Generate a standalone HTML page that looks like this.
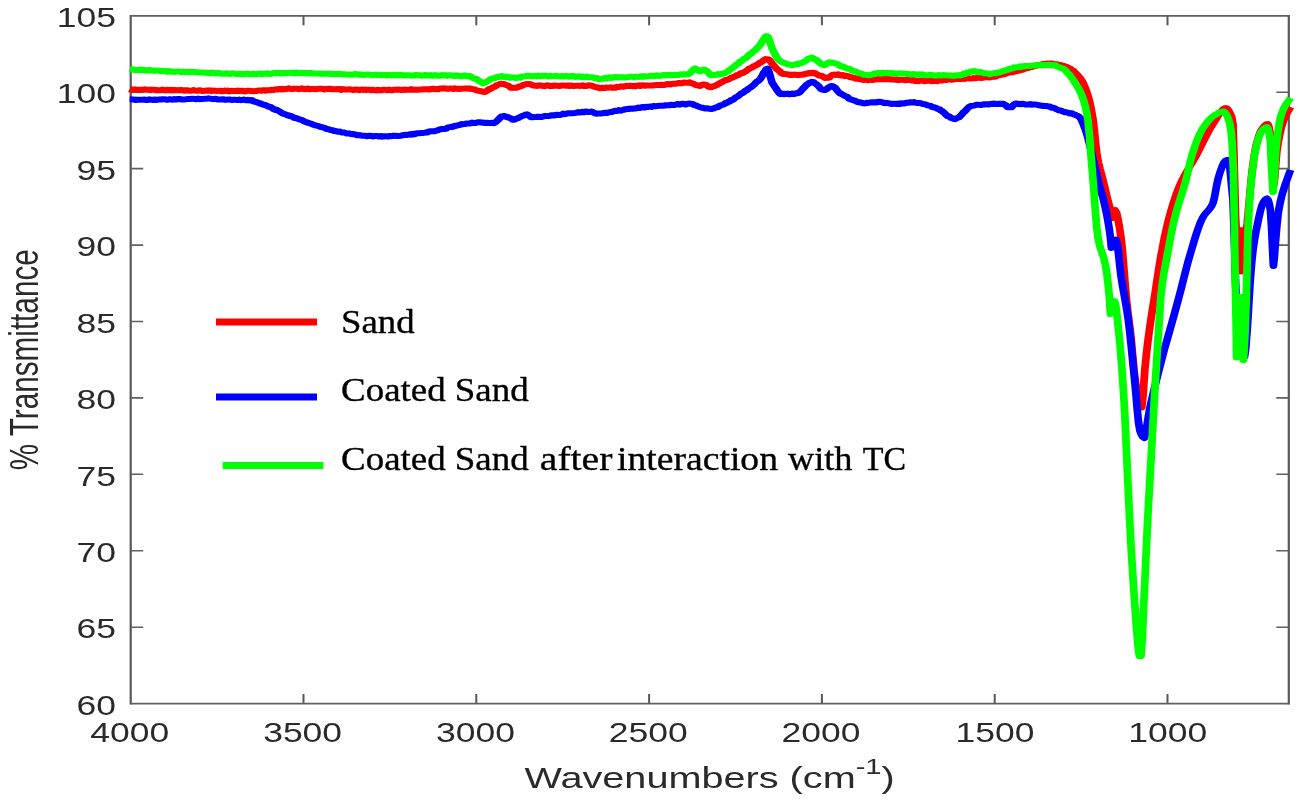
<!DOCTYPE html>
<html lang="en"><head><meta charset="utf-8"><title>FTIR spectra</title>
<style>
html,body{margin:0;padding:0;background:#fff;}
svg{display:block;}
.tk{font-family:"Liberation Sans",Arial,Helvetica,sans-serif;fill:#2a2a2a;}
.lg{font-family:"Liberation Serif","Times New Roman",serif;fill:#000;}
.c{fill:none;stroke-width:6.0;stroke-linejoin:round;stroke-linecap:butt;}
.ax{stroke:#555;stroke-width:1.7;fill:none;}
</style></head><body>
<svg width="1298" height="803" viewBox="0 0 1298 803">
<rect width="1298" height="803" fill="#fff"/>
<g id="axes">
<path class="ax" style="stroke-width:2.2;stroke:#585858" d="M130.7 15.0 V704.5 M1288.8 15.0 V704.5"/>
<path class="ax" style="stroke-width:1.7;stroke:#606060" d="M130.7 15.8 H1288.8 M130.7 703.6 H1288.8"/>
<path class="ax" style="stroke-width:2.0;stroke:#585858" d="M303.5 703.6 v-9.5 M303.5 15.8 v9.5 M476.3 703.6 v-9.5 M476.3 15.8 v9.5 M649.1 703.6 v-9.5 M649.1 15.8 v9.5 M821.9 703.6 v-9.5 M821.9 15.8 v9.5 M994.7 703.6 v-9.5 M994.7 15.8 v9.5 M1167.5 703.6 v-9.5 M1167.5 15.8 v9.5"/>
<path class="ax" style="stroke-width:1.6;stroke:#606060" d="M130.7 627.2 h12.5 M1288.8 627.2 h-12.5 M130.7 550.8 h12.5 M1288.8 550.8 h-12.5 M130.7 474.3 h12.5 M1288.8 474.3 h-12.5 M130.7 397.9 h12.5 M1288.8 397.9 h-12.5 M130.7 321.5 h12.5 M1288.8 321.5 h-12.5 M130.7 245.1 h12.5 M1288.8 245.1 h-12.5 M130.7 168.6 h12.5 M1288.8 168.6 h-12.5 M130.7 92.2 h12.5 M1288.8 92.2 h-12.5"/>
</g>
<g id="curves" transform="scale(1.290 1)">
<path class="c" stroke="#ff0000" d="M100.47 89.21 L101.62 89.73 L102.77 89.60 L103.92 89.52 L105.07 89.37 L106.23 89.89 L107.38 89.85 L108.53 89.64 L109.68 89.68 L110.84 89.70 L111.99 89.27 L113.14 89.81 L114.29 89.85 L115.44 89.68 L116.60 90.11 L117.75 89.68 L118.90 89.77 L120.05 89.63 L121.21 90.33 L122.36 90.10 L123.51 90.27 L124.66 90.28 L125.81 89.58 L126.97 90.13 L128.12 90.43 L129.27 89.82 L130.42 90.33 L131.58 89.80 L132.73 90.51 L133.88 89.87 L135.03 90.04 L136.19 90.27 L137.34 90.12 L138.49 90.17 L139.64 90.35 L140.79 89.96 L141.95 90.46 L143.10 90.77 L144.25 90.15 L145.40 90.19 L146.56 90.68 L147.71 90.77 L148.86 90.60 L150.01 90.12 L151.16 90.52 L152.32 90.82 L153.47 90.78 L154.62 90.21 L155.77 90.54 L156.93 91.06 L158.08 91.01 L159.23 90.65 L160.38 90.55 L161.54 90.70 L162.69 90.34 L163.84 91.11 L164.99 90.57 L166.14 90.63 L167.30 90.90 L168.45 90.89 L169.60 90.84 L170.75 90.64 L171.91 91.25 L173.06 91.28 L174.21 90.56 L175.36 91.07 L176.51 90.53 L177.67 91.36 L178.82 90.96 L179.97 90.85 L181.12 91.04 L182.28 90.91 L183.43 90.93 L184.58 90.53 L185.73 91.18 L186.88 90.83 L188.04 90.75 L189.19 91.28 L190.34 91.43 L191.49 90.79 L192.65 90.63 L193.80 91.03 L194.91 90.88 L196.01 91.13 L197.12 91.16 L198.23 90.98 L199.34 90.90 L200.44 90.39 L201.55 90.60 L202.66 90.63 L203.77 90.16 L204.87 90.16 L205.98 90.66 L207.09 90.28 L208.19 90.23 L209.30 90.31 L210.41 89.78 L211.52 90.11 L212.62 89.66 L213.73 89.37 L214.84 89.53 L215.95 88.91 L217.05 89.08 L218.16 89.44 L219.27 88.71 L220.38 89.26 L221.48 88.95 L222.59 88.99 L223.70 88.32 L224.81 88.86 L225.97 89.10 L227.13 88.77 L228.29 88.75 L229.46 88.84 L230.62 88.83 L231.78 89.15 L232.95 89.12 L234.11 88.34 L235.27 89.07 L236.43 89.16 L237.60 88.65 L238.76 88.52 L239.92 89.30 L241.09 88.96 L242.25 89.11 L243.41 89.02 L244.57 89.18 L245.74 89.06 L246.90 88.83 L248.06 88.76 L249.22 88.70 L250.39 88.99 L251.55 89.48 L252.71 89.08 L253.88 89.00 L255.04 88.78 L256.20 88.82 L257.36 89.33 L258.53 89.33 L259.69 89.22 L260.85 89.24 L262.02 89.02 L263.18 89.08 L264.34 89.89 L265.50 89.12 L266.67 89.29 L267.83 89.60 L268.99 89.59 L270.16 89.49 L271.32 89.30 L272.48 89.59 L273.64 90.10 L274.81 89.71 L275.97 89.52 L277.13 89.51 L278.29 90.25 L279.46 89.70 L280.62 89.59 L281.78 89.91 L282.95 89.51 L284.11 89.94 L285.27 89.82 L286.43 89.63 L287.60 90.21 L288.76 89.70 L289.92 90.02 L291.09 90.35 L292.25 90.38 L293.41 89.67 L294.57 90.42 L295.73 90.21 L296.89 89.66 L298.04 89.70 L299.20 89.91 L300.35 90.25 L301.51 89.60 L302.67 90.25 L303.82 90.32 L304.98 89.74 L306.14 89.86 L307.29 89.61 L308.45 89.65 L309.60 89.59 L310.76 90.00 L311.92 89.90 L313.07 89.50 L314.23 89.96 L315.39 89.67 L316.54 89.74 L317.70 89.80 L318.85 89.14 L320.01 89.78 L321.17 89.61 L322.32 89.85 L323.48 89.72 L324.64 89.65 L325.79 89.54 L326.95 89.58 L328.10 89.33 L329.26 89.14 L330.42 89.31 L331.57 89.16 L332.73 89.49 L333.89 89.28 L335.04 88.69 L336.20 88.81 L337.35 89.33 L338.51 89.06 L339.67 89.27 L340.82 88.48 L341.98 88.50 L343.13 88.41 L344.29 88.37 L345.45 88.52 L346.60 88.75 L347.76 88.73 L348.92 88.58 L350.07 88.56 L351.23 89.01 L352.38 88.24 L353.54 88.86 L354.70 88.80 L355.85 88.98 L357.01 88.79 L358.17 88.83 L359.32 88.59 L360.48 88.40 L361.63 88.50 L362.79 88.49 L363.82 88.79 L364.86 88.52 L365.89 89.12 L366.93 89.27 L367.96 89.44 L368.99 90.28 L370.08 90.40 L371.16 91.05 L372.25 91.02 L373.33 91.37 L374.42 91.78 L375.58 91.93 L376.74 91.38 L377.91 90.52 L379.07 89.12 L380.23 89.13 L381.40 88.07 L382.50 87.07 L383.61 86.82 L384.72 85.61 L385.83 84.86 L386.93 84.34 L388.04 83.76 L389.15 84.01 L390.31 83.92 L391.47 84.59 L392.64 85.19 L393.80 85.55 L394.96 86.62 L396.12 87.81 L397.29 87.89 L398.45 87.73 L399.53 87.84 L400.62 87.76 L401.71 87.05 L402.79 86.28 L403.88 86.21 L404.96 85.50 L406.05 84.66 L407.13 84.44 L408.22 83.95 L409.30 83.94 L410.47 83.94 L411.63 84.47 L412.79 85.24 L413.95 85.50 L415.10 85.68 L416.24 85.96 L417.38 85.40 L418.52 85.29 L419.67 85.76 L420.81 85.81 L421.95 86.15 L423.09 85.66 L424.24 85.32 L425.38 85.76 L426.52 85.98 L427.66 86.06 L428.80 85.78 L429.95 85.52 L431.09 85.54 L432.23 85.84 L433.37 86.04 L434.52 85.79 L435.66 85.45 L436.80 85.47 L437.94 85.66 L439.09 85.73 L440.23 85.49 L441.37 85.90 L442.51 85.44 L443.66 85.75 L444.80 86.09 L445.94 85.90 L447.08 85.73 L448.23 85.64 L449.37 86.00 L450.51 85.86 L451.65 85.34 L452.79 86.11 L453.94 86.09 L455.08 85.82 L456.22 85.36 L457.36 85.42 L458.53 85.46 L459.69 86.25 L460.85 86.80 L462.02 87.24 L463.18 87.13 L464.34 87.91 L465.50 88.30 L466.67 87.66 L467.81 87.99 L468.95 87.89 L470.09 87.53 L471.24 87.67 L472.38 87.61 L473.52 87.37 L474.66 87.89 L475.81 87.62 L476.95 87.66 L478.09 86.87 L479.23 87.11 L480.38 86.76 L481.52 86.37 L482.66 86.81 L483.80 86.51 L484.94 85.92 L486.09 85.84 L487.23 86.04 L488.37 85.64 L489.53 86.12 L490.70 86.17 L491.86 85.64 L493.02 86.15 L494.19 85.54 L495.35 85.37 L496.51 86.06 L497.67 85.30 L498.84 85.23 L500.00 85.70 L501.16 85.56 L502.33 85.59 L503.49 85.38 L504.65 85.57 L505.81 85.54 L506.98 85.14 L508.14 85.06 L509.30 84.87 L510.47 85.02 L511.63 84.84 L512.77 84.71 L513.91 84.98 L515.06 84.93 L516.20 84.58 L517.34 83.97 L518.48 84.11 L519.62 84.47 L520.77 83.93 L521.91 83.81 L523.05 83.79 L524.19 83.67 L525.34 83.27 L526.48 83.03 L527.62 83.21 L528.76 83.16 L529.91 82.50 L531.05 82.80 L532.19 82.71 L533.33 82.71 L534.50 82.27 L535.66 83.12 L536.82 83.38 L537.98 83.98 L539.15 84.94 L540.31 85.34 L541.47 85.48 L542.64 86.00 L543.67 85.06 L544.70 84.64 L545.74 84.43 L546.90 84.65 L548.06 85.45 L549.22 86.76 L550.39 87.03 L551.47 87.31 L552.56 86.31 L553.64 86.30 L554.73 85.60 L555.81 84.93 L556.90 83.93 L557.98 83.38 L559.07 82.30 L560.16 81.87 L561.24 80.82 L562.37 79.98 L563.50 80.05 L564.62 79.57 L565.75 78.60 L566.88 77.76 L568.01 77.55 L569.13 76.55 L570.26 76.28 L571.39 75.01 L572.52 75.05 L573.64 73.78 L574.81 72.94 L575.97 72.88 L577.13 71.99 L578.29 71.19 L579.46 69.98 L580.62 68.76 L581.78 68.17 L582.95 67.57 L584.11 66.26 L585.27 65.83 L586.43 65.07 L587.60 64.32 L588.76 62.92 L589.92 62.27 L591.09 61.29 L592.25 60.02 L593.41 59.10 L594.57 59.26 L595.74 59.47 L596.90 60.65 L598.06 62.97 L599.22 64.65 L600.39 66.48 L601.55 68.24 L602.58 69.44 L603.62 70.47 L604.65 71.35 L605.68 73.18 L606.72 73.96 L607.75 73.71 L608.88 74.11 L610.01 74.25 L611.13 74.49 L612.26 74.93 L613.39 74.81 L614.52 74.91 L615.64 74.61 L616.77 74.64 L617.90 75.05 L619.03 74.95 L620.16 74.70 L621.32 74.83 L622.48 74.51 L623.64 74.25 L624.81 73.77 L625.97 73.51 L627.13 72.93 L628.29 73.21 L629.46 72.66 L630.58 72.78 L631.71 73.09 L632.84 74.12 L633.97 74.95 L635.10 75.55 L636.22 75.66 L637.35 76.09 L638.48 77.15 L639.61 77.93 L640.73 77.82 L641.86 77.72 L643.02 77.46 L644.19 75.99 L645.35 74.89 L646.51 74.57 L647.66 74.92 L648.80 74.73 L649.95 74.32 L651.10 75.34 L652.24 75.56 L653.39 75.09 L654.53 76.11 L655.68 75.78 L656.83 76.00 L657.97 76.37 L659.12 77.22 L660.26 77.21 L661.41 77.84 L662.55 77.91 L663.70 78.73 L664.85 78.46 L665.99 79.01 L667.14 79.03 L668.28 79.55 L669.43 79.93 L670.58 79.52 L671.72 79.81 L672.87 80.31 L674.03 79.68 L675.19 79.70 L676.36 80.07 L677.52 79.25 L678.68 79.49 L679.84 79.24 L681.01 79.04 L682.17 79.36 L683.31 79.33 L684.45 79.06 L685.59 79.27 L686.73 78.94 L687.87 79.36 L689.01 79.12 L690.15 79.56 L691.29 79.25 L692.43 79.60 L693.57 79.65 L694.71 79.20 L695.85 79.99 L696.99 79.99 L698.13 79.83 L699.27 79.73 L700.41 79.82 L701.55 80.33 L702.69 80.08 L703.83 79.75 L704.97 79.96 L706.11 80.14 L707.25 80.58 L708.39 80.13 L709.53 80.95 L710.67 80.57 L711.81 81.17 L712.95 80.71 L714.09 80.39 L715.23 80.55 L716.37 81.27 L717.51 81.09 L718.65 80.75 L719.79 80.76 L720.93 80.62 L722.05 81.26 L723.17 80.99 L724.29 80.89 L725.41 80.52 L726.53 81.12 L727.65 80.64 L728.77 80.57 L729.89 80.56 L731.01 79.96 L732.13 79.81 L733.25 80.09 L734.37 79.70 L735.49 79.36 L736.61 79.30 L737.73 79.78 L738.85 79.46 L739.97 79.44 L741.09 79.08 L742.23 79.10 L743.38 79.04 L744.52 78.44 L745.67 78.95 L746.81 78.26 L747.96 78.94 L749.11 78.01 L750.25 78.05 L751.40 78.44 L752.54 78.48 L753.69 78.47 L754.84 78.10 L755.98 78.25 L757.13 78.11 L758.27 77.51 L759.42 77.86 L760.57 78.03 L761.71 77.76 L762.86 77.48 L764.00 77.38 L765.15 76.85 L766.30 77.51 L767.44 77.22 L768.60 76.97 L769.77 76.67 L770.93 76.84 L772.09 76.38 L773.26 75.50 L774.42 75.35 L775.58 74.87 L776.74 74.79 L777.91 74.35 L779.07 74.08 L780.23 73.29 L781.40 72.71 L782.56 72.54 L783.72 72.02 L784.88 72.33 L786.05 71.83 L787.21 71.25 L788.37 71.01 L789.53 70.13 L790.70 70.43 L791.86 69.26 L793.02 69.67 L794.19 68.51 L795.35 68.20 L796.51 68.29 L797.67 67.53 L798.84 67.14 L800.00 67.11 L801.16 66.17 L802.33 66.05 L803.49 65.38 L804.65 64.83 L805.81 64.98 L806.98 64.96 L808.14 64.00 L809.30 64.59 L810.47 63.76 L811.63 63.82 L812.79 63.43 L813.95 64.04 L815.08 63.32 L816.21 63.98 L817.34 64.29 L818.46 64.24 L819.59 64.22 L820.72 65.17 L821.85 64.86 L822.97 65.51 L824.10 66.50 L825.23 66.13 L826.36 66.77 L827.44 67.26 L828.53 68.56 L829.61 68.56 L830.70 70.33 L831.78 70.55 L832.87 71.84 L833.95 73.43 L835.04 74.84 L836.12 76.36 L837.21 78.00 L838.24 79.85 L839.28 82.16 L840.31 84.91 L841.34 88.08 L842.38 91.65 L843.41 95.60 L844.42 100.20 L845.43 105.92 L846.43 112.70 L847.44 120.50 L848.42 131.38 L849.41 144.54 L850.39 155.00 L851.55 162.71 L852.71 168.83 L853.88 174.29 L855.04 180.00 L856.16 185.98 L857.27 192.03 L858.39 197.98 L859.50 203.69 L860.62 209.00 L861.71 214.73 L862.79 218.00 L863.57 214.00 L864.34 210.00 L865.50 212.45 L866.67 218.82 L867.83 227.66 L868.99 237.50 L870.06 249.88 L871.12 266.68 L872.19 284.52 L873.26 300.00 L874.19 310.55 L875.12 319.96 L876.05 329.39 L876.98 340.00 L878.02 355.27 L879.07 370.00 L880.23 382.44 L881.40 392.00 L882.25 397.08 L883.10 401.25 L883.95 404.50 L885.12 407.50 L886.05 396.00 L886.74 382.99 L887.44 370.00 L888.53 355.73 L889.61 343.79 L890.70 333.00 L891.82 322.64 L892.95 313.20 L894.07 304.15 L895.19 295.00 L896.36 285.10 L897.52 275.10 L898.68 265.48 L899.84 256.70 L900.90 249.35 L901.96 242.29 L903.02 235.57 L904.08 229.25 L905.14 223.37 L906.20 218.00 L907.36 212.54 L908.53 207.36 L909.69 202.48 L910.85 197.90 L912.02 193.62 L913.18 189.65 L914.34 186.00 L915.44 182.82 L916.54 179.85 L917.64 177.07 L918.73 174.43 L919.83 171.91 L920.93 169.49 L922.03 167.11 L923.13 164.77 L924.22 162.41 L925.32 160.02 L926.42 157.56 L927.52 155.00 L928.68 152.17 L929.84 149.24 L931.01 146.25 L932.17 143.23 L933.33 140.22 L934.50 137.24 L935.66 134.33 L936.82 131.52 L937.98 128.84 L939.15 126.32 L940.31 124.00 L941.43 121.77 L942.55 119.40 L943.67 117.01 L944.79 114.70 L945.91 112.57 L947.03 110.73 L948.15 109.28 L949.27 108.34 L950.39 108.00 L951.55 108.86 L952.71 111.04 L953.88 114.00 L954.84 117.17 L955.81 124.00 L956.59 155.00 L957.05 180.00 L957.75 215.00 L958.29 229.00 L959.26 229.84 L960.23 230.00 L961.20 230.21 L962.17 231.20 L962.25 271.50 L962.33 231.20 L963.29 230.18 L964.26 229.91 L965.23 229.74 L966.20 229.00 L966.82 223.77 L967.44 215.00 L968.29 202.72 L969.15 190.00 L969.84 180.43 L970.54 172.00 L971.58 161.66 L972.61 152.74 L973.64 146.00 L974.81 140.30 L975.97 135.46 L977.13 131.64 L978.29 129.00 L979.40 127.15 L980.50 125.55 L981.61 124.42 L982.71 124.00 L983.57 126.22 L984.42 132.00 L985.27 140.00 L986.24 165.46 L987.21 186.00 L988.11 178.39 L989.02 162.78 L989.92 150.00 L991.09 140.82 L992.25 133.15 L993.41 126.91 L994.57 122.00 L995.74 118.19 L996.90 115.09 L998.06 112.39 L999.22 109.80 L1000.39 107.00"/>
<path class="c" stroke="#0000ff" d="M100.47 99.27 L101.63 99.31 L102.78 99.56 L103.94 99.53 L105.10 100.07 L106.26 99.70 L107.42 99.72 L108.58 99.71 L109.74 99.72 L110.90 99.70 L112.06 99.53 L113.22 100.00 L114.38 99.91 L115.54 99.35 L116.70 99.84 L117.86 99.75 L119.02 100.01 L120.18 99.55 L121.34 99.97 L122.50 99.58 L123.66 99.59 L124.82 99.56 L125.98 99.19 L127.14 99.17 L128.30 99.45 L129.46 99.86 L130.62 99.58 L131.78 99.18 L132.93 99.53 L134.08 99.71 L135.23 99.01 L136.38 99.54 L137.53 98.97 L138.67 99.26 L139.82 99.05 L140.97 99.49 L142.12 99.45 L143.27 99.49 L144.42 99.13 L145.56 99.07 L146.71 99.02 L147.86 98.97 L149.01 98.64 L150.16 98.96 L151.31 98.91 L152.45 99.29 L153.60 98.61 L154.75 99.25 L155.90 98.92 L157.05 98.99 L158.20 98.86 L159.35 98.63 L160.49 98.65 L161.64 98.37 L162.79 98.59 L163.95 98.85 L165.12 99.13 L166.28 98.97 L167.44 98.67 L168.60 99.40 L169.77 99.51 L170.93 99.60 L172.09 99.34 L173.26 99.24 L174.42 99.77 L175.53 99.71 L176.65 99.59 L177.76 99.41 L178.88 99.83 L179.99 99.92 L181.10 99.78 L182.22 99.85 L183.33 99.98 L184.45 100.11 L185.56 99.58 L186.68 100.17 L187.79 99.96 L188.91 99.57 L190.02 99.98 L191.13 100.28 L192.25 99.77 L193.33 100.45 L194.42 100.06 L195.50 100.23 L196.59 101.47 L197.67 101.76 L198.76 101.98 L199.84 102.62 L200.93 103.42 L202.02 103.35 L203.10 104.24 L204.24 104.76 L205.39 104.73 L206.53 105.78 L207.67 106.19 L208.81 106.98 L209.96 107.08 L211.10 108.14 L212.24 109.24 L213.38 109.93 L214.52 109.79 L215.67 110.75 L216.81 111.46 L217.95 112.62 L219.09 113.38 L220.24 113.97 L221.38 114.28 L222.52 115.25 L223.66 115.29 L224.81 116.35 L225.95 116.13 L227.09 116.89 L228.23 117.95 L229.37 118.06 L230.51 118.59 L231.65 119.24 L232.79 119.54 L233.93 120.03 L235.07 120.83 L236.21 121.77 L237.35 122.19 L238.49 122.61 L239.63 123.35 L240.77 123.49 L241.91 124.23 L243.05 124.77 L244.19 125.25 L245.33 125.57 L246.47 125.83 L247.61 126.49 L248.75 127.03 L249.89 127.18 L251.03 127.65 L252.17 128.26 L253.31 129.04 L254.45 129.00 L255.59 129.70 L256.73 129.95 L257.87 130.15 L259.01 131.04 L260.15 130.92 L261.29 131.48 L262.43 131.68 L263.57 131.58 L264.73 132.42 L265.89 132.60 L267.05 132.58 L268.22 133.27 L269.38 133.59 L270.54 133.31 L271.71 133.90 L272.87 134.22 L274.03 134.08 L275.19 134.43 L276.36 135.02 L277.52 135.37 L278.68 135.10 L279.84 135.49 L281.01 135.66 L282.17 135.68 L283.33 135.95 L284.50 136.22 L285.66 135.81 L286.82 135.80 L287.98 135.96 L289.15 136.44 L290.31 136.08 L291.47 136.12 L292.64 135.91 L293.80 136.43 L294.96 135.96 L296.12 136.64 L297.29 136.54 L298.45 136.22 L299.61 136.35 L300.78 136.55 L301.94 136.04 L303.10 136.20 L304.26 136.11 L305.43 135.64 L306.59 135.70 L307.75 136.06 L308.91 136.04 L310.08 135.88 L311.24 135.58 L312.40 135.16 L313.57 134.85 L314.73 135.11 L315.89 134.63 L317.05 134.82 L318.22 134.03 L319.38 134.60 L320.54 133.70 L321.71 134.18 L322.87 133.25 L324.03 133.26 L325.19 133.22 L326.36 133.06 L327.52 133.10 L328.68 132.90 L329.84 132.61 L331.01 132.58 L332.17 131.66 L333.33 131.31 L334.50 131.18 L335.66 131.14 L336.82 131.22 L337.98 130.74 L339.15 130.34 L340.31 129.75 L341.47 129.23 L342.64 128.98 L343.80 128.95 L344.96 128.94 L346.12 128.55 L347.29 127.38 L348.45 127.11 L349.61 126.79 L350.78 127.02 L351.94 126.29 L353.10 125.74 L354.26 125.68 L355.43 125.01 L356.59 125.11 L357.75 124.09 L358.91 124.21 L360.08 124.10 L361.24 123.64 L362.40 123.41 L363.57 123.56 L364.73 123.33 L365.89 122.61 L367.05 122.90 L368.22 122.97 L369.38 122.72 L370.54 122.30 L371.67 122.13 L372.80 122.60 L373.93 122.48 L375.05 122.76 L376.18 122.98 L377.31 122.73 L378.44 123.00 L379.56 122.97 L380.69 122.91 L381.82 122.79 L382.95 123.17 L384.11 122.20 L385.27 120.90 L386.43 119.51 L387.60 117.78 L388.76 116.48 L389.92 116.24 L390.99 115.94 L392.05 116.95 L393.12 116.83 L394.19 117.53 L395.25 118.06 L396.32 118.51 L397.38 119.71 L398.45 119.80 L399.57 119.04 L400.69 118.42 L401.81 118.16 L402.93 117.08 L404.05 116.52 L405.17 115.87 L406.29 115.49 L407.41 114.59 L408.53 114.24 L409.50 115.02 L410.47 116.16 L411.43 117.05 L412.40 117.28 L413.56 117.06 L414.71 117.13 L415.86 117.01 L417.01 116.70 L418.17 117.07 L419.32 116.96 L420.47 116.72 L421.63 116.27 L422.78 116.02 L423.93 116.03 L425.08 116.13 L426.24 115.83 L427.39 115.25 L428.54 115.24 L429.70 115.54 L430.85 115.04 L432.00 114.77 L433.15 114.99 L434.31 114.90 L435.46 114.50 L436.61 113.60 L437.77 114.15 L438.92 113.82 L440.07 113.36 L441.22 113.31 L442.38 113.34 L443.53 113.14 L444.68 113.16 L445.84 112.97 L446.99 112.69 L448.14 112.10 L449.29 112.54 L450.45 112.38 L451.60 111.81 L452.75 112.27 L453.91 111.45 L455.06 111.74 L456.21 112.07 L457.36 111.83 L458.40 111.50 L459.43 111.95 L460.47 112.95 L461.50 113.36 L462.53 113.75 L463.57 113.38 L464.73 113.39 L465.89 113.42 L467.05 113.22 L468.22 113.00 L469.38 112.79 L470.54 112.95 L471.71 112.37 L472.87 112.11 L474.03 112.05 L475.19 111.42 L476.36 110.96 L477.52 110.65 L478.68 111.03 L479.84 110.07 L481.01 110.66 L482.17 110.18 L483.33 109.88 L484.50 109.22 L485.66 109.21 L486.82 108.67 L487.98 108.88 L489.15 108.50 L490.31 108.85 L491.47 108.47 L492.64 108.60 L493.80 108.06 L494.96 107.49 L496.12 107.94 L497.26 107.21 L498.40 106.98 L499.54 107.61 L500.68 106.78 L501.82 107.10 L502.96 106.68 L504.10 106.53 L505.24 106.93 L506.38 105.96 L507.52 106.10 L508.66 106.15 L509.80 105.89 L510.94 105.83 L512.08 105.80 L513.22 105.66 L514.36 105.72 L515.50 105.27 L516.64 105.40 L517.78 105.17 L518.92 105.30 L520.06 104.69 L521.20 104.90 L522.34 104.94 L523.48 104.71 L524.62 104.20 L525.76 103.97 L526.90 104.63 L528.04 103.99 L529.18 103.77 L530.32 103.91 L531.46 104.48 L532.60 103.89 L533.74 103.56 L534.88 103.77 L535.99 103.70 L537.10 104.14 L538.21 105.22 L539.31 105.14 L540.42 106.13 L541.53 106.53 L542.64 107.13 L543.74 107.62 L544.85 107.82 L545.96 108.21 L547.07 108.44 L548.17 108.31 L549.28 108.55 L550.39 108.87 L551.47 109.11 L552.56 108.51 L553.64 108.24 L554.73 107.57 L555.81 107.18 L556.90 107.00 L557.98 105.62 L559.07 105.22 L560.16 104.81 L561.24 104.31 L562.35 103.06 L563.46 102.99 L564.56 101.85 L565.67 101.53 L566.78 99.92 L567.88 99.89 L568.99 98.94 L570.10 97.59 L571.21 96.95 L572.31 96.01 L573.42 94.74 L574.53 93.54 L575.64 93.00 L576.74 92.03 L577.87 90.61 L579.00 90.19 L580.13 88.63 L581.25 87.86 L582.38 86.96 L583.51 85.63 L584.64 84.49 L585.76 82.83 L586.89 81.56 L588.02 80.84 L589.15 79.28 L590.13 77.46 L591.11 75.33 L592.09 72.63 L593.07 71.13 L594.06 69.14 L595.04 68.64 L596.18 72.22 L597.31 77.40 L598.45 82.40 L599.56 84.56 L600.66 86.76 L601.77 88.95 L602.88 91.12 L603.99 93.04 L605.09 94.10 L606.20 93.61 L607.29 94.28 L608.37 93.72 L609.46 94.11 L610.54 93.62 L611.63 94.32 L612.71 94.21 L613.80 93.51 L614.88 93.76 L615.97 93.98 L617.05 93.30 L618.18 93.20 L619.31 92.83 L620.44 91.48 L621.56 90.00 L622.69 88.24 L623.82 86.85 L624.95 85.11 L626.07 84.36 L627.20 83.10 L628.33 82.62 L629.46 81.78 L630.62 82.16 L631.78 83.40 L632.95 84.25 L634.11 85.59 L635.27 87.21 L636.43 89.08 L637.60 89.83 L638.76 89.88 L639.79 89.95 L640.83 89.11 L641.86 87.70 L642.89 87.22 L643.93 86.26 L644.96 86.04 L645.99 86.48 L647.03 87.32 L648.06 88.79 L649.10 90.65 L650.13 92.15 L651.16 93.38 L652.33 94.01 L653.49 94.77 L654.65 95.65 L655.81 96.43 L656.98 97.01 L658.14 98.68 L659.30 99.24 L660.47 99.83 L661.63 100.40 L662.79 100.73 L663.95 101.54 L665.12 102.31 L666.28 102.18 L667.44 102.58 L668.60 103.10 L669.77 103.39 L670.85 103.32 L671.94 102.77 L673.02 102.95 L674.11 102.69 L675.19 102.35 L676.28 102.49 L677.36 102.28 L678.45 102.52 L679.53 102.42 L680.62 101.67 L681.75 101.69 L682.88 101.97 L684.00 102.18 L685.13 103.00 L686.26 103.15 L687.39 102.83 L688.51 103.09 L689.64 103.45 L690.77 103.70 L691.90 103.96 L693.02 103.67 L694.13 103.68 L695.24 104.02 L696.35 103.45 L697.45 104.07 L698.56 103.27 L699.67 103.52 L700.78 103.56 L701.88 102.98 L702.99 102.77 L704.10 102.80 L705.20 102.32 L706.31 102.33 L707.42 102.59 L708.53 102.13 L709.69 102.50 L710.85 102.97 L712.02 103.06 L713.18 102.94 L714.34 103.42 L715.50 103.94 L716.67 104.18 L717.83 104.56 L718.99 105.36 L720.16 105.63 L721.32 105.99 L722.48 107.04 L723.64 107.00 L724.81 107.73 L725.97 108.10 L727.13 109.15 L728.23 109.25 L729.33 110.59 L730.43 111.21 L731.52 112.35 L732.62 113.75 L733.72 115.21 L734.82 116.26 L735.92 116.52 L737.02 117.82 L738.11 118.07 L739.21 118.84 L740.31 119.20 L741.41 118.35 L742.51 117.83 L743.60 117.13 L744.70 115.42 L745.80 114.17 L746.90 112.19 L748.00 111.39 L749.10 109.68 L750.19 108.16 L751.29 106.85 L752.39 105.98 L753.49 105.90 L754.65 105.61 L755.81 105.28 L756.98 104.78 L758.14 104.70 L759.30 104.86 L760.47 105.11 L761.63 104.56 L762.79 104.25 L763.95 104.48 L765.12 104.16 L766.28 104.53 L767.44 104.12 L768.60 103.76 L769.77 104.01 L770.93 103.54 L772.09 103.96 L773.26 103.94 L774.42 103.70 L775.58 103.76 L776.74 103.98 L777.78 103.81 L778.81 104.62 L779.84 105.42 L780.88 106.98 L781.91 107.23 L782.95 107.36 L784.11 107.33 L785.27 105.49 L786.43 104.03 L787.60 103.56 L788.74 103.74 L789.88 104.02 L791.02 104.19 L792.17 103.63 L793.31 103.85 L794.45 104.39 L795.59 104.46 L796.74 104.48 L797.88 104.39 L799.02 103.93 L800.16 104.69 L801.31 104.41 L802.45 104.38 L803.59 104.58 L804.73 105.15 L805.88 105.26 L807.02 105.72 L808.16 105.69 L809.30 106.09 L810.47 106.08 L811.63 106.11 L812.79 106.52 L813.95 106.52 L815.12 107.72 L816.28 107.76 L817.44 108.08 L818.60 109.08 L819.77 109.67 L820.93 110.32 L822.09 110.54 L823.26 111.06 L824.42 111.74 L825.58 112.25 L826.67 112.35 L827.75 112.63 L828.84 113.37 L829.92 113.00 L831.01 113.38 L832.09 114.41 L833.18 114.51 L834.26 115.22 L835.35 115.89 L836.43 116.70 L837.44 118.06 L838.45 120.33 L839.46 123.24 L840.47 126.55 L841.47 130.00 L842.54 134.16 L843.60 139.12 L844.67 144.52 L845.74 150.00 L846.82 155.73 L847.91 161.80 L848.99 168.00 L850.08 174.14 L851.16 180.00 L852.14 184.87 L853.13 189.41 L854.11 193.85 L855.09 198.44 L856.07 203.41 L857.05 209.00 L857.98 214.82 L858.91 221.24 L859.84 228.66 L860.78 237.50 L861.55 248.00 L862.36 247.36 L863.18 246.00 L864.15 242.32 L865.12 239.50 L866.09 243.65 L867.05 253.60 L868.02 265.63 L868.99 276.00 L870.12 285.05 L871.26 293.28 L872.39 301.39 L873.52 310.06 L874.65 320.00 L875.60 329.91 L876.54 341.18 L877.49 353.26 L878.43 365.55 L879.38 377.50 L880.47 392.62 L881.55 409.00 L882.64 423.01 L883.72 431.00 L884.83 434.53 L885.94 437.04 L887.05 438.00 L888.10 433.31 L889.15 425.00 L890.12 417.45 L891.09 410.00 L892.25 402.77 L893.41 396.27 L894.57 390.00 L895.54 384.83 L896.51 379.81 L897.48 374.89 L898.45 370.00 L899.52 364.64 L900.58 359.34 L901.65 354.12 L902.71 349.00 L903.88 343.58 L905.04 338.28 L906.20 333.00 L907.16 328.68 L908.11 324.37 L909.07 320.00 L910.12 315.09 L911.18 310.14 L912.23 305.13 L913.29 300.08 L914.34 295.00 L915.45 289.54 L916.56 283.91 L917.66 278.22 L918.77 272.56 L919.88 267.02 L920.99 261.70 L922.09 256.70 L923.21 251.80 L924.33 246.88 L925.45 242.02 L926.57 237.28 L927.69 232.73 L928.81 228.46 L929.93 224.53 L931.05 221.02 L932.17 218.00 L933.33 215.50 L934.50 213.55 L935.66 211.89 L936.82 210.27 L937.98 208.42 L939.15 206.08 L940.31 203.00 L941.24 198.67 L942.17 192.38 L943.10 185.64 L944.03 180.00 L944.91 175.90 L945.79 172.24 L946.67 169.00 L947.75 165.24 L948.84 162.50 L950.00 160.79 L951.16 160.00 L952.25 162.37 L953.33 168.00 L953.99 175.36 L954.65 185.00 L955.81 200.00 L956.78 237.33 L957.75 280.00 L958.79 311.07 L959.82 337.12 L960.85 350.00 L961.82 352.98 L962.79 355.17 L963.76 356.53 L964.73 357.00 L965.70 348.29 L966.67 332.00 L967.55 315.09 L968.42 295.35 L969.30 278.00 L970.31 262.38 L971.32 250.00 L972.48 239.65 L973.64 231.25 L974.81 224.00 L975.87 217.57 L976.94 211.48 L978.00 206.39 L979.07 203.00 L980.10 200.83 L981.14 199.17 L982.17 198.50 L983.05 199.97 L983.93 204.00 L984.81 210.00 L985.66 226.37 L986.51 250.00 L987.13 266.00 L987.83 258.02 L988.53 245.00 L989.61 228.54 L990.70 215.00 L991.60 207.71 L992.51 201.90 L993.41 197.00 L994.42 192.19 L995.43 187.96 L996.43 184.12 L997.44 180.46 L998.45 176.80 L999.42 173.35 L1000.39 170.00"/>
<path class="c" stroke="#00ff00" d="M100.47 69.19 L101.59 69.40 L102.71 69.37 L103.83 70.00 L104.95 69.82 L106.08 70.16 L107.20 70.04 L108.32 69.61 L109.44 70.34 L110.56 69.72 L111.69 70.00 L112.81 70.49 L113.93 70.47 L115.05 70.10 L116.18 70.11 L117.30 70.32 L118.42 70.65 L119.54 70.67 L120.66 70.49 L121.79 70.44 L122.91 70.61 L124.03 71.11 L125.18 71.33 L126.33 70.85 L127.48 70.90 L128.62 70.89 L129.77 71.76 L130.92 70.99 L132.07 71.71 L133.22 71.39 L134.37 71.78 L135.52 71.91 L136.66 71.66 L137.81 71.41 L138.96 71.68 L140.11 72.00 L141.26 72.27 L142.41 71.61 L143.55 72.15 L144.70 71.92 L145.85 71.98 L147.00 72.30 L148.15 71.82 L149.30 71.85 L150.45 72.06 L151.59 72.27 L152.74 72.22 L153.89 72.33 L155.04 72.41 L156.18 72.65 L157.32 72.43 L158.46 72.67 L159.60 72.80 L160.74 72.85 L161.88 73.15 L163.02 73.07 L164.16 72.59 L165.30 73.11 L166.44 73.09 L167.58 73.57 L168.72 73.05 L169.86 72.83 L171.00 73.65 L172.14 73.76 L173.28 73.72 L174.42 73.72 L175.56 73.37 L176.70 73.87 L177.84 73.86 L178.98 73.95 L180.12 73.29 L181.26 73.58 L182.40 73.80 L183.54 74.11 L184.68 74.24 L185.82 73.80 L186.96 73.95 L188.10 74.21 L189.24 73.87 L190.38 73.96 L191.52 73.56 L192.66 73.96 L193.80 74.24 L194.95 74.09 L196.10 73.82 L197.24 74.04 L198.39 74.32 L199.54 73.90 L200.69 73.83 L201.84 73.45 L202.99 74.15 L204.13 73.66 L205.28 73.77 L206.43 73.84 L207.58 73.18 L208.73 73.91 L209.88 73.92 L211.02 73.51 L212.17 73.02 L213.32 73.30 L214.47 72.84 L215.62 73.06 L216.77 72.87 L217.92 73.50 L219.06 72.95 L220.21 73.30 L221.36 73.02 L222.51 73.08 L223.66 72.87 L224.81 72.78 L225.97 72.98 L227.13 72.78 L228.29 73.40 L229.46 72.58 L230.62 73.05 L231.78 73.03 L232.95 73.23 L234.11 72.74 L235.27 73.18 L236.43 73.00 L237.60 72.99 L238.76 73.28 L239.92 73.36 L241.09 72.80 L242.25 73.62 L243.41 73.49 L244.57 73.42 L245.74 73.52 L246.90 73.62 L248.06 73.66 L249.22 73.56 L250.39 73.90 L251.55 73.85 L252.71 73.86 L253.88 73.63 L255.04 73.54 L256.20 73.94 L257.36 73.79 L258.53 74.07 L259.69 74.23 L260.85 74.10 L262.02 74.11 L263.18 73.81 L264.34 74.14 L265.50 74.32 L266.67 74.22 L267.83 74.51 L268.99 74.46 L270.16 74.49 L271.32 74.58 L272.48 74.77 L273.64 74.60 L274.81 74.24 L275.97 74.02 L277.13 74.37 L278.29 74.73 L279.46 74.43 L280.62 74.82 L281.78 74.93 L282.95 74.64 L284.11 74.63 L285.27 74.49 L286.43 74.67 L287.60 74.89 L288.76 75.31 L289.92 74.98 L291.09 74.77 L292.25 75.07 L293.41 74.69 L294.57 74.73 L295.73 75.32 L296.89 75.10 L298.04 74.96 L299.20 74.93 L300.35 75.43 L301.51 75.01 L302.67 74.99 L303.82 75.48 L304.98 74.78 L306.14 74.95 L307.29 75.44 L308.45 74.80 L309.60 75.34 L310.76 74.77 L311.92 75.31 L313.07 75.19 L314.23 75.46 L315.39 75.15 L316.54 75.13 L317.70 75.42 L318.85 75.62 L320.01 75.58 L321.17 75.41 L322.32 74.88 L323.48 75.23 L324.64 75.18 L325.79 75.14 L326.95 75.68 L328.10 75.24 L329.26 75.56 L330.42 74.91 L331.57 75.43 L332.73 75.38 L333.89 74.97 L335.04 75.72 L336.20 75.74 L337.35 74.98 L338.51 75.76 L339.67 75.84 L340.82 75.67 L341.98 75.19 L343.13 75.11 L344.29 75.31 L345.45 75.37 L346.60 75.87 L347.76 75.21 L348.92 75.28 L350.07 75.40 L351.23 75.84 L352.38 76.12 L353.54 75.37 L354.70 75.46 L355.85 75.92 L357.01 76.24 L358.17 76.19 L359.32 75.57 L360.48 75.51 L361.63 76.37 L362.79 76.36 L363.82 75.89 L364.86 76.53 L365.89 77.51 L366.93 78.09 L367.96 78.70 L368.99 78.70 L370.08 79.62 L371.16 80.98 L372.25 81.54 L373.33 82.34 L374.42 83.40 L375.58 82.47 L376.74 82.17 L377.91 81.31 L379.07 80.29 L380.23 79.30 L381.40 78.66 L382.50 78.16 L383.61 78.23 L384.72 77.39 L385.83 76.77 L386.93 77.05 L388.04 76.60 L389.15 76.08 L390.23 76.87 L391.32 76.41 L392.40 77.26 L393.49 76.72 L394.57 77.17 L395.66 77.76 L396.74 77.30 L397.83 77.61 L398.91 77.55 L400.00 78.19 L401.16 77.56 L402.33 77.35 L403.49 77.80 L404.65 76.57 L405.81 76.38 L406.98 76.20 L408.14 75.92 L409.30 75.74 L410.45 75.82 L411.59 76.23 L412.74 76.21 L413.88 76.04 L415.02 75.86 L416.17 76.46 L417.31 75.58 L418.46 76.27 L419.60 75.93 L420.75 75.74 L421.89 75.81 L423.03 75.81 L424.18 75.94 L425.32 76.50 L426.47 75.88 L427.61 76.20 L428.76 76.15 L429.90 76.09 L431.04 75.85 L432.19 75.95 L433.33 76.46 L434.48 76.50 L435.62 76.02 L436.77 76.46 L437.91 76.30 L439.06 76.03 L440.20 76.26 L441.34 76.80 L442.49 76.01 L443.63 76.20 L444.78 76.09 L445.92 76.88 L447.07 76.42 L448.21 76.75 L449.35 76.33 L450.50 77.10 L451.64 76.58 L452.79 77.17 L453.93 77.01 L455.08 76.53 L456.22 77.18 L457.36 77.22 L458.47 77.37 L459.58 77.32 L460.69 77.99 L461.79 78.51 L462.90 78.05 L464.01 78.95 L465.12 79.13 L466.28 78.82 L467.44 78.85 L468.60 77.97 L469.77 78.44 L470.93 78.22 L472.09 77.33 L473.26 77.95 L474.42 77.16 L475.58 77.70 L476.74 76.96 L477.91 77.25 L479.07 76.91 L480.23 77.39 L481.40 77.36 L482.56 76.99 L483.72 77.59 L484.88 77.29 L486.05 77.31 L487.21 77.03 L488.37 76.82 L489.53 76.76 L490.70 76.66 L491.86 77.20 L493.02 76.59 L494.19 76.82 L495.35 76.97 L496.51 76.21 L497.67 76.80 L498.84 76.14 L500.00 76.66 L501.16 76.40 L502.33 76.20 L503.49 75.98 L504.65 75.70 L505.81 75.81 L506.98 76.14 L508.14 75.68 L509.30 75.35 L510.47 75.90 L511.63 75.88 L512.77 75.52 L513.91 75.12 L515.06 75.14 L516.20 75.07 L517.34 75.18 L518.48 74.74 L519.62 75.18 L520.77 75.00 L521.91 75.35 L523.05 74.65 L524.19 75.02 L525.34 75.12 L526.48 74.70 L527.62 74.36 L528.76 74.39 L529.91 74.30 L531.05 74.40 L532.19 74.20 L533.33 74.16 L534.42 73.77 L535.50 72.39 L536.59 70.81 L537.67 69.37 L538.76 68.43 L539.73 69.11 L540.70 69.79 L541.67 70.73 L542.64 71.30 L543.67 70.26 L544.70 70.45 L545.74 69.47 L546.77 70.15 L547.80 70.76 L548.84 72.18 L549.87 73.85 L550.90 75.01 L551.94 75.17 L553.05 74.91 L554.15 74.99 L555.26 74.74 L556.37 74.08 L557.48 74.43 L558.58 74.31 L559.69 73.64 L560.85 73.48 L562.02 73.00 L563.18 72.09 L564.34 71.39 L565.50 69.91 L566.67 69.05 L567.83 67.91 L568.99 66.69 L570.16 65.62 L571.32 64.29 L572.48 63.55 L573.64 61.63 L574.75 61.17 L575.86 59.81 L576.97 58.55 L578.07 58.14 L579.18 56.89 L580.29 55.33 L581.40 54.10 L582.50 53.43 L583.61 51.86 L584.72 50.87 L585.83 49.60 L586.93 48.05 L588.04 46.76 L589.15 45.14 L590.23 42.81 L591.32 40.36 L592.40 38.68 L593.49 36.43 L594.57 36.21 L595.54 37.20 L596.51 40.63 L597.48 44.56 L598.45 48.08 L599.48 50.60 L600.52 53.80 L601.55 56.20 L602.58 58.25 L603.62 59.98 L604.65 60.88 L605.81 61.96 L606.98 62.61 L608.14 63.12 L609.30 63.50 L610.47 64.31 L611.63 64.59 L612.79 64.78 L613.95 65.25 L615.06 64.69 L616.17 64.80 L617.28 64.03 L618.38 64.15 L619.49 63.39 L620.60 63.28 L621.71 62.79 L622.81 62.14 L623.92 61.23 L625.03 60.59 L626.14 59.31 L627.24 58.32 L628.35 58.25 L629.46 57.62 L630.62 58.48 L631.78 59.48 L632.95 59.81 L634.11 61.39 L635.27 62.58 L636.43 63.87 L637.60 64.46 L638.76 65.14 L639.92 64.64 L641.09 63.58 L642.25 62.56 L643.41 62.27 L644.54 62.89 L645.67 62.69 L646.79 63.09 L647.92 63.40 L649.05 63.91 L650.18 64.80 L651.30 65.96 L652.43 66.40 L653.56 66.50 L654.69 67.52 L655.81 67.95 L656.95 68.74 L658.09 68.68 L659.22 69.29 L660.36 70.40 L661.50 70.79 L662.64 71.39 L663.77 71.71 L664.91 72.64 L666.05 73.31 L667.18 73.29 L668.32 73.88 L669.46 74.69 L670.59 74.68 L671.73 74.91 L672.87 75.16 L674.03 75.29 L675.19 74.88 L676.36 74.47 L677.52 73.61 L678.68 73.76 L679.84 73.21 L681.01 72.68 L682.17 73.42 L683.31 73.21 L684.45 72.77 L685.59 73.28 L686.73 73.23 L687.87 72.94 L689.01 73.22 L690.15 73.36 L691.29 72.92 L692.43 73.18 L693.57 73.35 L694.71 73.46 L695.85 73.69 L696.99 73.28 L698.13 73.46 L699.27 73.59 L700.41 73.60 L701.55 73.47 L702.69 73.93 L703.83 74.05 L704.97 74.23 L706.11 74.14 L707.25 74.45 L708.39 74.12 L709.53 74.42 L710.67 74.51 L711.81 74.77 L712.95 74.28 L714.09 74.93 L715.23 74.30 L716.37 75.00 L717.51 75.18 L718.65 75.20 L719.79 75.22 L720.93 74.63 L722.05 74.81 L723.17 75.34 L724.29 75.56 L725.41 75.40 L726.53 75.61 L727.65 75.12 L728.77 75.53 L729.89 75.31 L731.01 75.05 L732.13 75.27 L733.25 75.24 L734.37 75.40 L735.49 75.58 L736.61 75.33 L737.73 75.69 L738.85 75.71 L739.97 75.95 L741.09 75.34 L742.25 75.41 L743.41 75.09 L744.57 75.45 L745.74 74.80 L746.90 73.82 L748.06 74.01 L749.22 72.87 L750.39 72.37 L751.55 72.03 L752.71 71.53 L753.88 71.78 L755.04 71.09 L756.17 71.21 L757.29 72.10 L758.42 72.21 L759.55 71.98 L760.68 72.24 L761.80 72.77 L762.93 73.14 L764.06 73.13 L765.19 73.57 L766.31 73.68 L767.44 74.14 L768.60 73.67 L769.77 73.42 L770.93 73.02 L772.09 73.13 L773.26 72.75 L774.42 72.43 L775.58 71.97 L776.74 71.55 L777.91 70.67 L779.07 70.64 L780.23 70.01 L781.40 69.80 L782.56 68.64 L783.72 68.76 L784.88 68.45 L786.05 67.37 L787.21 67.50 L788.37 67.28 L789.53 67.24 L790.70 66.36 L791.86 66.87 L793.02 66.15 L794.19 66.00 L795.35 66.20 L796.51 65.93 L797.67 66.01 L798.84 65.86 L800.00 65.66 L801.16 65.59 L802.33 65.61 L803.49 65.06 L804.65 65.47 L805.81 64.91 L806.98 65.35 L808.14 64.99 L809.30 65.36 L810.47 65.05 L811.63 65.04 L812.79 64.84 L813.95 65.00 L815.07 65.09 L816.18 65.44 L817.30 65.14 L818.41 65.43 L819.53 66.61 L820.64 66.98 L821.75 67.44 L822.87 68.22 L823.98 68.44 L825.10 69.59 L826.21 70.84 L827.33 72.72 L828.44 74.00 L829.55 75.68 L830.67 77.71 L831.78 79.59 L832.85 81.87 L833.91 83.88 L834.97 86.03 L836.04 88.41 L837.10 91.08 L838.16 94.09 L839.22 97.50 L840.27 101.46 L841.32 106.40 L842.36 112.64 L843.41 120.50 L844.57 135.68 L845.74 155.00 L846.51 167.49 L847.29 180.00 L848.26 196.08 L849.22 212.62 L850.19 227.22 L851.16 237.50 L852.14 243.81 L853.13 248.44 L854.11 252.17 L855.09 255.81 L856.07 260.15 L857.05 266.00 L858.06 274.21 L859.07 285.05 L860.08 299.00 L860.78 314.00 L861.83 310.63 L862.89 304.37 L863.95 301.00 L864.86 304.99 L865.76 314.31 L866.67 325.00 L867.79 338.93 L868.91 355.63 L870.04 374.94 L871.16 396.70 L872.04 417.63 L872.92 442.23 L873.80 467.00 L874.65 490.86 L875.50 514.89 L876.36 536.70 L877.52 562.26 L878.68 585.34 L879.84 607.00 L880.81 624.85 L881.78 640.00 L882.56 650.47 L883.33 656.00 L884.50 656.00 L885.47 639.16 L886.43 610.00 L887.55 579.68 L888.66 547.63 L889.77 517.50 L890.59 497.62 L891.42 478.83 L892.25 460.00 L893.15 438.66 L894.06 417.26 L894.96 396.70 L895.89 376.65 L896.82 357.27 L897.75 338.42 L898.68 320.00 L899.34 306.31 L900.00 295.00 L901.16 282.50 L902.33 272.88 L903.49 264.75 L904.65 256.70 L905.65 249.52 L906.64 242.55 L907.64 235.84 L908.63 229.46 L909.63 223.50 L910.62 218.00 L911.72 212.54 L912.81 207.57 L913.91 202.96 L915.00 198.55 L916.09 194.20 L917.19 189.76 L918.28 185.07 L919.38 180.00 L920.54 173.81 L921.71 167.06 L922.87 160.52 L924.03 155.00 L925.10 150.73 L926.16 146.66 L927.23 142.81 L928.29 139.22 L929.36 135.91 L930.43 132.92 L931.49 130.27 L932.56 128.00 L933.72 125.80 L934.88 123.74 L936.05 121.84 L937.21 120.10 L938.37 118.53 L939.53 117.16 L940.70 115.97 L941.86 115.00 L942.97 114.17 L944.08 113.36 L945.19 112.63 L946.30 112.04 L947.42 111.64 L948.53 111.50 L949.66 112.45 L950.80 114.84 L951.94 118.00 L953.10 122.74 L954.26 130.70 L955.19 144.00 L956.12 170.00 L956.90 224.00 L957.52 278.00 L958.37 332.00 L958.60 357.50 L959.59 341.81 L960.57 312.69 L961.55 297.00 L962.35 313.33 L963.15 343.67 L963.95 360.00 L964.88 340.00 L965.19 332.00 L965.85 307.44 L966.51 278.00 L967.60 224.00 L968.71 199.69 L969.82 183.20 L970.93 170.00 L971.71 161.59 L972.48 155.00 L973.59 147.80 L974.70 141.94 L975.81 137.50 L976.90 134.11 L977.98 131.35 L979.07 129.50 L980.10 128.30 L981.14 127.37 L982.17 127.00 L983.00 128.77 L983.82 133.42 L984.65 140.00 L985.74 168.37 L986.82 192.00 L987.91 174.41 L988.99 150.00 L989.92 139.08 L990.85 129.84 L991.78 122.42 L992.71 117.00 L993.85 112.38 L994.99 108.88 L996.12 106.00 L997.19 103.69 L998.26 101.72 L999.32 99.90 L1000.39 98.00"/>
</g>
<g id="ticklabels" class="tk" font-size="28.5">
<text text-anchor="end" transform="translate(116.0 714.8) scale(1.245 1)">60</text>
<text text-anchor="end" transform="translate(116.0 638.4) scale(1.245 1)">65</text>
<text text-anchor="end" transform="translate(116.0 562.0) scale(1.245 1)">70</text>
<text text-anchor="end" transform="translate(116.0 485.5) scale(1.245 1)">75</text>
<text text-anchor="end" transform="translate(116.0 409.1) scale(1.245 1)">80</text>
<text text-anchor="end" transform="translate(116.0 332.7) scale(1.245 1)">85</text>
<text text-anchor="end" transform="translate(116.0 256.3) scale(1.245 1)">90</text>
<text text-anchor="end" transform="translate(116.0 179.8) scale(1.245 1)">95</text>
<text text-anchor="end" transform="translate(116.0 103.4) scale(1.245 1)">100</text>
<text text-anchor="end" transform="translate(116.0 27.0) scale(1.245 1)">105</text>
<text text-anchor="middle" transform="translate(129.8 741.9) scale(1.245 1)">4000</text>
<text text-anchor="middle" transform="translate(302.6 741.9) scale(1.245 1)">3500</text>
<text text-anchor="middle" transform="translate(475.4 741.9) scale(1.245 1)">3000</text>
<text text-anchor="middle" transform="translate(648.2 741.9) scale(1.245 1)">2500</text>
<text text-anchor="middle" transform="translate(821.0 741.9) scale(1.245 1)">2000</text>
<text text-anchor="middle" transform="translate(995.0 741.9) scale(1.245 1)">1500</text>
<text text-anchor="middle" transform="translate(1167.8 741.9) scale(1.245 1)">1000</text>
</g>
<g id="axislabels" class="tk">
<text font-size="30" text-anchor="middle" transform="translate(709.6 788.2) scale(1.322 1)">Wavenumbers (cm<tspan font-size="22" dy="-14.5">-1</tspan><tspan dy="14.5">)</tspan></text>
<text font-size="29.7" text-anchor="middle" transform="translate(37.5 359.8) rotate(-90) scale(1 1.36)">% Transmittance</text>
</g>
<g id="legend">
<path d="M216 322 H317" stroke="#ff0000" stroke-width="6.8" fill="none"/>
<path d="M216 397 H317" stroke="#0000ff" stroke-width="6.8" fill="none"/>
<path d="M222.7 465.5 H323.4" stroke="#00ff00" stroke-width="6.8" fill="none"/>
<g class="lg" font-size="34.5" stroke="#000" stroke-width="0.35">
<text y="333.0"><tspan x="341.0" textLength="73.6" lengthAdjust="spacingAndGlyphs">Sand</tspan></text>
<text y="401.3"><tspan x="341.1" textLength="104.5" lengthAdjust="spacingAndGlyphs">Coated</tspan> <tspan x="454.8" textLength="73.9" lengthAdjust="spacingAndGlyphs">Sand</tspan></text>
<text y="469.5"><tspan x="341.1" textLength="104.5" lengthAdjust="spacingAndGlyphs">Coated</tspan> <tspan x="454.8" textLength="73.9" lengthAdjust="spacingAndGlyphs">Sand</tspan> <tspan x="539.8" textLength="72.6" lengthAdjust="spacingAndGlyphs">after</tspan> <tspan x="617.0" textLength="161.0" lengthAdjust="spacingAndGlyphs">interaction</tspan> <tspan x="788.0" textLength="64.5" lengthAdjust="spacingAndGlyphs">with</tspan> <tspan x="862.7" textLength="43.3" lengthAdjust="spacingAndGlyphs">TC</tspan></text>
</g></g>
</svg></body></html>
